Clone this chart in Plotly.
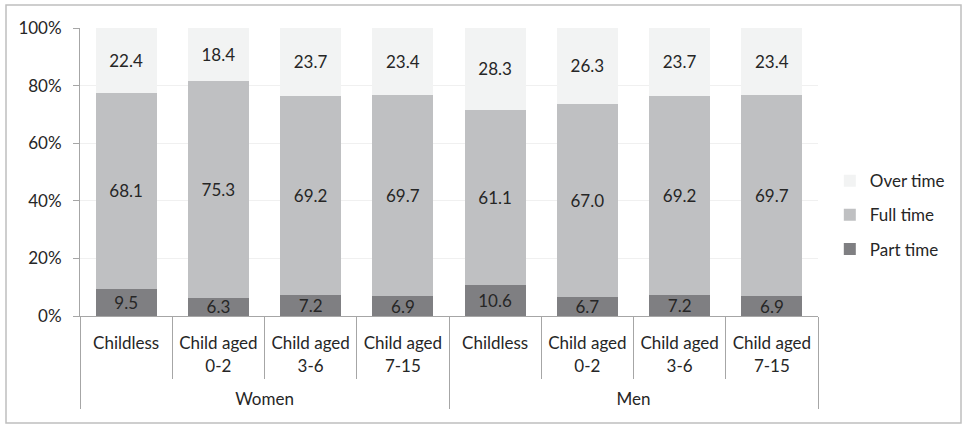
import plotly.graph_objects as go

# Share of employees by working-time category (%)
groups = ["<br>Women"] * 4 + ["<br>Men"] * 4
categories = ["Childless", "Child aged<br>0-2", "Child aged<br>3-6", "Child aged<br>7-15"] * 2

part_time = [9.5, 6.3, 7.2, 6.9, 10.6, 6.7, 7.2, 6.9]
full_time = [68.1, 75.3, 69.2, 69.7, 61.1, 67.0, 69.2, 69.7]
over_time = [22.4, 18.4, 23.7, 23.4, 28.3, 26.3, 23.7, 23.4]

# (name, values, colour, legend rank) — stacked bottom to top
series = [
    ("Part time", part_time, "#7f7f82", 3),
    ("Full time", full_time, "#bfc0c2", 2),
    ("Over time", over_time, "#f2f3f3", 1),
]

FONT = "Lato, 'Open Sans', sans-serif"
TEXT = "#262626"

fig = go.Figure()
for name, vals, color, rank in series:
    fig.add_trace(go.Bar(
        name=name,
        x=[groups, categories],
        y=vals,
        marker=dict(color=color, line=dict(width=0)),
        text=[f"{v:.1f}" for v in vals],
        textposition="inside",
        insidetextanchor="middle",
        textfont=dict(family=FONT, size=17, color=TEXT),
        legendgroup=name,
        legendrank=rank,
        hoverinfo="skip",
    ))

fig.update_layout(
    width=962,
    height=424,
    barmode="stack",
    bargap=0.34,
    plot_bgcolor="white",
    paper_bgcolor="white",
    margin=dict(l=80, r=144, t=28, b=108),
    font=dict(family=FONT, size=17, color=TEXT),
    uniformtext=dict(minsize=17, mode="show"),
    legend=dict(
        x=1.016, y=0.35, xanchor="left", yanchor="middle",
        traceorder="grouped", tracegroupgap=9,
        font=dict(family=FONT, size=17, color=TEXT),
        bgcolor="rgba(0,0,0,0)",
    ),
    showlegend=True,
)

fig.update_yaxes(
    range=[0, 100],
    tickvals=[0, 20, 40, 60, 80, 100],
    ticktext=["0%", "20%", "40%", "60%", "80%", "100%"],
    showgrid=True, gridcolor="#f0f0f0", gridwidth=1,
    showline=True, linecolor="#a6a6a6", linewidth=1,
    ticks="outside", ticklen=6, tickcolor="#a6a6a6",
    ticklabelstandoff=8,
    zeroline=False,
    tickfont=dict(family=FONT, size=17, color=TEXT),
)

fig.update_xaxes(
    type="multicategory",
    showline=True, linecolor="#a6a6a6", linewidth=1,
    ticks="outside", tickson="boundaries", ticklen=62, tickcolor="#a6a6a6",
    ticklabelstandoff=12,
    showdividers=True, dividercolor="#a6a6a6", dividerwidth=1,
    tickfont=dict(family=FONT, size=17, color=TEXT),
)

# Frame around the whole chart
fig.add_shape(
    type="rect", xref="paper", yref="paper",
    x0=(6 - 80) / 738, x1=(961 - 80) / 738,
    y0=(316 - 423) / 288, y1=(316 - 5) / 288,
    line=dict(color="#bfbfbf", width=1.5),
    fillcolor="rgba(0,0,0,0)", layer="below",
)

fig.write_html("out.html")
